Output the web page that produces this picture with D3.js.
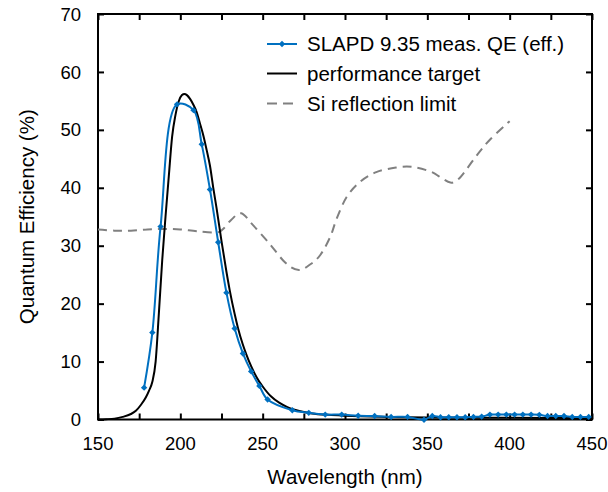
<!DOCTYPE html>
<html>
<head>
<meta charset="utf-8">
<script src="https://cdn.jsdelivr.net/npm/d3@7"></script>
<style>
  html, body { margin: 0; padding: 0; background: #fff; }
  svg { display: block; }
  text { font-family: "Liberation Sans", Arial, sans-serif; fill: #000; }
</style>
</head>
<body>
<svg id="chart" width="608" height="492"></svg>
<script>
// ---- data ----
const measWavelength = [178,183,188,198,208,213,218,223,228,233,238,243,248,253,268,278,288,298,308,318,328,338,348,
  353,358,363,368,373,378,383,388,393,398,403,408,413,418,423,428,433,438,443,448];
const measQE = [5.5,15.0,33.3,54.4,53.4,47.5,39.7,30.6,21.9,15.7,11.4,8.3,5.8,3.45,1.6,1.15,0.85,0.85,0.65,0.6,0.45,0.45,-0.05,
  0.6,0.4,0.4,0.4,0.4,0.45,0.5,0.85,0.85,0.85,0.85,0.85,0.85,0.8,0.6,0.6,0.6,0.45,0.45,0.45];

const targetWavelength = [150,155,160,165,170,173,176,179,181,183,185,187,189,191,193,195,197,199,201,202.5,204,206,208,210,212,214,216,218,220,222,225,228,230,233,235,238,240,243,245,248,250,255,260,265,270,275,280,290,300,325,350,400,450];
const targetQE = [0,0.05,0.15,0.45,0.95,1.5,2.5,3.8,5.0,6.5,10,18.5,27.5,35,42,48.8,52.5,54.9,56.0,56.2,56.0,55.3,54.3,53.0,51.0,49.0,46.5,43.8,40.0,36.5,30.8,25.5,22.3,18.2,15.8,12.9,11.3,9.2,8.0,6.5,5.7,4.0,2.9,2.15,1.65,1.3,1.05,0.8,0.65,0.45,0.35,0.3,0.25];

const siWavelength = [150,160,170,180,190,200,210,222,226,231,237,244,254,264,272,279,285,291,295,301,309,319,331,341,352,358,364,368,372,380,388,400];
const siQE = [32.8,32.6,32.6,32.8,32.9,32.8,32.5,32.3,32.9,34.5,35.6,33.6,30.4,27.0,25.8,26.8,28.4,31.5,34.7,38.4,41.0,42.7,43.5,43.6,42.8,41.8,40.9,41.3,42.5,45.6,48.3,51.5];

const xTicks = [150,175,200,225,250,275,300,325,350,375,400,425,450];
const xTickLabels = [150,200,250,300,350,400,450];
const yTicks = [0,10,20,30,40,50,60,70];

const seriesNames = ["SLAPD 9.35 meas. QE (eff.)", "performance target", "Si reflection limit"];
const xTitle = "Wavelength (nm)";
const yTitle = "Quantum Efficiency (%)";

// ---- layout ----
const W = 608, H = 492;
const m = {left: 98, right: 16, top: 14, bottom: 72.5};
const svg = d3.select("#chart");
const x = d3.scaleLinear().domain([150, 450]).range([m.left, W - m.right]);
const y = d3.scaleLinear().domain([0, 70]).range([H - m.bottom, m.top]);

const blue = "#0070c0", grey = "#808080";

// frame
const g = svg.append("g");
g.append("rect").attr("x", x(150)).attr("y", y(70)).attr("width", x(450) - x(150)).attr("height", y(0) - y(70))
  .attr("fill", "none").attr("stroke", "#000").attr("stroke-width", 2);

// axes (ticks inward)
const tickLen = 6;
const xb = g.append("g").attr("transform", `translate(0,${y(0)})`)
  .call(d3.axisBottom(x).tickValues(xTicks).tickSize(-tickLen).tickFormat(""));
const xt = g.append("g").attr("transform", `translate(0,${y(70)})`)
  .call(d3.axisTop(x).tickValues(xTicks).tickSize(-tickLen).tickFormat(""));
const yl = g.append("g").attr("transform", `translate(${x(150)},0)`)
  .call(d3.axisLeft(y).tickValues(yTicks).tickSize(-tickLen).tickFormat(""));
const yr = g.append("g").attr("transform", `translate(${x(450)},0)`)
  .call(d3.axisRight(y).tickValues(yTicks).tickSize(-tickLen).tickFormat(""));
[xb, xt, yl, yr].forEach(a => {
  a.select(".domain").remove();
  a.selectAll("line").attr("stroke", "#000").attr("stroke-width", 2);
});

// tick labels
g.append("g").selectAll("text").data(xTickLabels).join("text")
  .attr("x", d => x(d)).attr("y", y(0) + 30).attr("text-anchor", "middle")
  .attr("font-size", 18.5).text(d => d);
g.append("g").selectAll("text").data(yTicks).join("text")
  .attr("x", x(150) - 17).attr("y", d => y(d) + 6.6).attr("text-anchor", "end")
  .attr("font-size", 18.5).text(d => d);

// titles
svg.append("text").attr("x", (x(150) + x(450)) / 2).attr("y", 484).attr("text-anchor", "middle")
  .attr("font-size", 20.5).text(xTitle);
svg.append("text").attr("transform", `translate(34,${(y(0) + y(70)) / 2}) rotate(-90)`)
  .attr("text-anchor", "middle").attr("font-size", 20.5).text(yTitle);

// lines
const plot = svg.append("g");
const smooth = d3.line().x(d => x(d[0])).y(d => y(d[1])).curve(d3.curveCatmullRom.alpha(0.5));
const si = siWavelength.map((w, i) => [w, siQE[i]]);
const tgt = targetWavelength.map((w, i) => [w, targetQE[i]]);
const meas = measWavelength.map((w, i) => [w, measQE[i]]);

plot.append("path").attr("d", d3.line().x(d => x(d[0])).y(d => y(d[1])).curve(d3.curveCardinal.tension(0))(si))
  .attr("fill", "none").attr("stroke", grey).attr("stroke-width", 2).attr("stroke-dasharray", "9,6");
plot.append("path").attr("d", d3.line().x(d => x(d[0])).y(d => y(d[1])).curve(d3.curveMonotoneX)(tgt))
  .attr("fill", "none").attr("stroke", "#000").attr("stroke-width", 2);
plot.append("path").attr("d", smooth(meas)).attr("fill", "none").attr("stroke", blue).attr("stroke-width", 2);
const diamond = d3.symbol().type(d3.symbolDiamond2).size(26);
plot.selectAll(".pt").data(meas).join("path").attr("class", "pt")
  .attr("transform", d => `translate(${x(d[0])},${y(d[1])})`).attr("d", diamond).attr("fill", blue);

// legend
const lg = svg.append("g");
const rows = [44, 73.5, 103.5];
const lx0 = 267, lx1 = 297, tx = 307;
lg.append("line").attr("x1", lx0).attr("x2", lx1).attr("y1", rows[0]).attr("y2", rows[0]).attr("stroke", blue).attr("stroke-width", 2);
lg.append("path").attr("transform", `translate(${(lx0 + lx1) / 2},${rows[0]})`).attr("d", diamond).attr("fill", blue);
lg.append("line").attr("x1", lx0).attr("x2", lx1).attr("y1", rows[1]).attr("y2", rows[1]).attr("stroke", "#000").attr("stroke-width", 2);
lg.append("line").attr("x1", lx0).attr("x2", lx1).attr("y1", rows[2]).attr("y2", rows[2]).attr("stroke", grey).attr("stroke-width", 2).attr("stroke-dasharray", "10,6");
lg.selectAll("text").data(seriesNames).join("text")
  .attr("x", tx).attr("y", (d, i) => rows[i] + 7.3).attr("font-size", 20.5).text(d => d);
</script>
</body>
</html>
